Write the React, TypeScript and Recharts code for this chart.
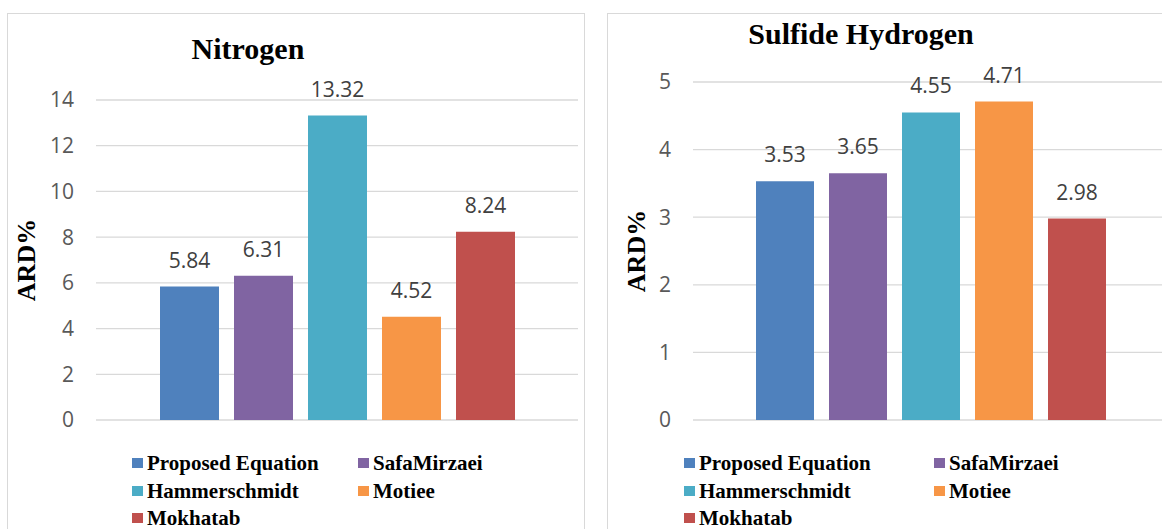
import React from "react";
import { BarChart, Bar, XAxis, YAxis, CartesianGrid, LabelList } from "recharts";

const seriesNames = ["Proposed Equation", "SafaMirzaei", "Hammerschmidt", "Motiee", "Mokhatab"];
const seriesColors = ["#4F81BD", "#8064A2", "#4BACC6", "#F79646", "#C0504D"];

const nitrogenValues = [5.84, 6.31, 13.32, 4.52, 8.24];
const nitrogenTicks = [0, 2, 4, 6, 8, 10, 12, 14];

const h2sValues = [3.53, 3.65, 4.55, 4.71, 2.98];
const h2sTicks = [0, 1, 2, 3, 4, 5];

const serif = "'Liberation Serif', 'Times New Roman', serif";
const sans = "'Open Sans', sans-serif";

function toRow(name: string, values: number[]) {
  const row: Record<string, any> = { name };
  values.forEach((v, i) => (row["s" + i] = v));
  return row;
}

interface PanelProps {
  title: string;
  values: number[];
  ticks: number[];
  svgLeft: number;
  svgWidth: number;
  axisWidth: number;
  marginTop: number;
  marginRight: number;
  barSize: number;
  labelOffset: number;
  titleCenter: number;
  titleTop: number;
  legendCols: number[];
}

function Panel(p: PanelProps) {
  const data = [toRow(p.title, p.values)];
  const max = p.ticks[p.ticks.length - 1];
  return (
    <>
      <div
        style={{
          position: "absolute",
          left: p.titleCenter - 200,
          top: p.titleTop,
          width: 400,
          textAlign: "center",
          fontFamily: serif,
          fontWeight: "bold",
          fontSize: 30,
          lineHeight: "30px",
          color: "#000",
        }}
      >
        {p.title}
      </div>
      <div style={{ position: "absolute", left: p.svgLeft, top: 0 }}>
        <BarChart
          width={p.svgWidth}
          height={529}
          data={data}
          margin={{ top: p.marginTop, right: p.marginRight, bottom: 109, left: 0 }}
          barGap={15}
        >
          <CartesianGrid vertical={false} stroke="#d9d9d9" strokeWidth={1.3} />
          <XAxis dataKey="name" hide />
          <YAxis
            width={p.axisWidth}
            domain={[0, max]}
            ticks={p.ticks}
            interval={0}
            axisLine={false}
            tickLine={false}
            tickSize={6}
            tickMargin={16}
            tick={{ fill: "#595959", fontSize: 21, fontFamily: sans }}
            label={{
              value: "ARD%",
              angle: -90,
              position: "insideLeft",
              offset: p.labelOffset,
              style: {
                textAnchor: "middle",
                fontFamily: serif,
                fontWeight: "bold",
                fontSize: 26,
                fill: "#000",
              },
            }}
          />
          {seriesNames.map((s, i) => (
            <Bar
              key={s}
              dataKey={"s" + i}
              name={s}
              fill={seriesColors[i]}
              barSize={p.barSize}
              isAnimationActive={false}
            >
              <LabelList
                dataKey={"s" + i}
                position="top"
                offset={19}
                fill="#404040"
                fontSize={21}
                fontFamily={sans}
              />
            </Bar>
          ))}
        </BarChart>
      </div>
      {seriesNames.map((s, i) => (
        <div
          key={s}
          style={{
            position: "absolute",
            left: p.legendCols[i % 2],
            top: [463, 491, 518][Math.floor(i / 2)] - 14,
            height: 28,
            display: "flex",
            alignItems: "center",
            fontFamily: serif,
            fontWeight: "bold",
            fontSize: 21,
            color: "#000",
            whiteSpace: "nowrap",
          }}
        >
          <span style={{ width: 11, height: 10, background: seriesColors[i], marginRight: 4, display: "inline-block" }} />
          {s}
        </div>
      ))}
    </>
  );
}

export default function App() {
  return (
    <div
      style={{
        position: "fixed",
        left: 0,
        top: 0,
        width: 1162,
        height: 529,
        overflow: "hidden",
        background: "#fff",
      }}
    >
      <div
        style={{
          position: "absolute",
          left: 7,
          top: 13,
          width: 576,
          height: 560,
          border: "1.5px solid #d9d9d9",
        }}
      />
      <div
        style={{
          position: "absolute",
          left: 607,
          top: 13,
          width: 600,
          height: 560,
          border: "1.5px solid #d9d9d9",
        }}
      />
      <Panel
        title="Nitrogen"
        values={nitrogenValues}
        ticks={nitrogenTicks}
        svgLeft={0}
        svgWidth={590}
        axisWidth={96}
        marginTop={100}
        marginRight={12}
        barSize={59}
        labelOffset={26}
        titleCenter={248}
        titleTop={34}
        legendCols={[132, 358]}
      />
      <Panel
        title="Sulfide Hydrogen"
        values={h2sValues}
        ticks={h2sTicks}
        svgLeft={600}
        svgWidth={580}
        axisWidth={93}
        marginTop={82}
        marginRight={11}
        barSize={58}
        labelOffset={36}
        titleCenter={861}
        titleTop={19}
        legendCols={[684, 934]}
      />
    </div>
  );
}
